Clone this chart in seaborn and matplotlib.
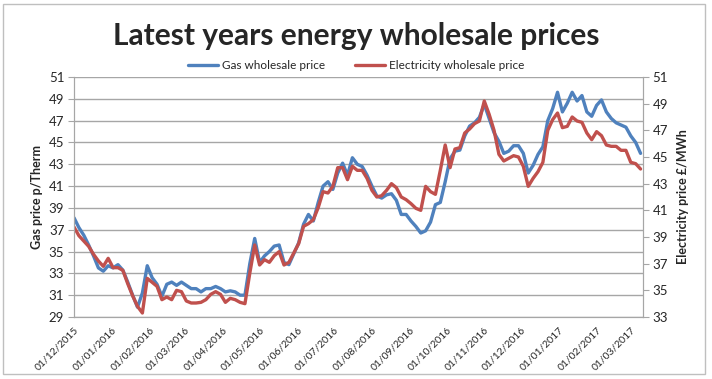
import matplotlib
matplotlib.use("Agg")
import matplotlib.pyplot as plt
import matplotlib.dates as mdates
from matplotlib.patches import Rectangle
import pandas as pd
import seaborn as sns

# prices sampled every 4 days from 01/12/2015
start_date = "2015-12-01"
step = "4D"

gas_price = [
    38.1, 37.2, 36.5, 35.6, 34.6, 33.5, 33.2, 33.7, 33.5, 33.8,
    33.3, 32.2, 31.0, 29.9, 31.2, 33.7, 32.6, 32.0, 30.9, 32.0,
    32.2, 31.9, 32.2, 31.9, 31.6, 31.6, 31.3, 31.6, 31.6, 31.8,
    31.6, 31.3, 31.4, 31.3, 31.0, 31.0, 33.9, 36.2, 34.0, 34.6,
    35.0, 35.5, 35.6, 34.0, 33.8, 34.8, 35.8, 37.5, 38.4, 37.8,
    39.5, 41.0, 41.4, 40.7, 42.2, 43.1, 42.0, 43.6, 43.0, 42.8,
    42.0, 41.0, 40.1, 39.9, 40.2, 40.3, 39.7, 38.4, 38.4, 37.8,
    37.3, 36.7, 36.9, 37.7, 39.3, 39.5, 41.4, 43.5, 44.2, 44.3,
    45.6, 46.5, 46.8, 47.3, 48.5, 47.2, 45.9, 45.1, 44.0, 44.2,
    44.7, 44.7, 44.0, 42.2, 42.9, 43.9, 44.6, 47.0, 48.1, 49.6,
    47.8, 48.6, 49.6, 48.8, 49.3, 47.8, 47.4, 48.4, 48.9, 47.8,
    47.2, 46.8, 46.6, 46.4, 45.6, 45.0, 44.0,
]

elec_price = [
    39.75, 39.1, 38.7, 38.3, 37.7, 37.2, 36.8, 37.4, 36.7, 36.7,
    36.5, 35.5, 34.6, 33.8, 33.3, 35.9, 35.6, 35.3, 34.3, 34.5,
    34.3, 35.0, 34.9, 34.2, 34.05, 34.05, 34.1, 34.3, 34.7, 34.9,
    34.7, 34.1, 34.4, 34.3, 34.1, 34.0, 36.3, 38.4, 36.9, 37.3,
    37.1, 37.6, 37.9, 36.9, 37.1, 37.8, 38.5, 39.8, 40.0, 40.3,
    41.2, 42.4, 42.3, 42.8, 44.2, 44.2, 43.3, 44.3, 44.0, 44.0,
    43.4, 42.5, 42.0, 42.1, 42.5, 43.0, 42.7, 42.0, 41.8, 41.5,
    41.15, 41.0, 42.8, 42.4, 42.2, 44.0, 45.9, 44.2, 45.6, 45.7,
    46.8, 47.1, 47.5, 47.7, 49.2, 48.2, 47.0, 45.2, 44.7, 44.9,
    45.1, 45.0, 44.3, 42.8, 43.4, 43.9, 44.6, 47.0, 47.8, 48.3,
    47.2, 47.3, 48.0, 47.7, 47.6, 46.8, 46.3, 46.9, 46.6, 45.9,
    45.8, 45.8, 45.5, 45.5, 44.6, 44.5, 44.1,
]

gas_ticks = list(range(29, 52, 2))
elec_ticks = list(range(33, 52, 2))

dates = pd.date_range(start_date, periods=len(gas_price), freq=step)
df = pd.DataFrame({"date": dates, "gas": gas_price, "elec": elec_price})

blue = "#4F81BD"
red = "#C0504D"
grid_col = "#A6A6A6"

sns.set_style("white")
plt.rcParams["font.family"] = ["Lato", "DejaVu Sans"]

fig = plt.figure(figsize=(7.12, 3.79), dpi=100)
ax = fig.add_axes([74 / 712, 1 - 317 / 379, (643 - 74) / 712, (317 - 77) / 379])
ax2 = ax.twinx()

sns.lineplot(data=df, x="date", y="gas", ax=ax, color=blue, linewidth=2.4,
             label="Gas wholesale price", legend=False)
sns.lineplot(data=df, x="date", y="elec", ax=ax2, color=red, linewidth=2.4,
             label="Electricity wholesale price", legend=False)

ax.set_ylim(29, 51)
ax.set_yticks(gas_ticks)
ax2.set_ylim(33, 51)
ax2.set_yticks(elec_ticks)
ax.set_xlim(pd.Timestamp("2015-12-01"), pd.Timestamp("2017-03-11"))

ax.xaxis.set_major_locator(mdates.MonthLocator())
ax.xaxis.set_major_formatter(mdates.DateFormatter("%d/%m/%Y"))
for lab in ax.get_xticklabels():
    lab.set_rotation(45)
    lab.set_ha("right")
    lab.set_rotation_mode("anchor")
ax.tick_params(axis="x", labelsize=7.5, length=4, color=grid_col, pad=2)
ax.tick_params(axis="y", labelsize=9.5, length=4, color=grid_col, pad=3)
ax2.tick_params(axis="y", labelsize=9.5, length=4, color=grid_col, pad=3)

ax.grid(axis="y", color=grid_col, linewidth=1)
ax.grid(axis="x", visible=False)
ax2.grid(False)
for a in (ax, ax2):
    a.spines["top"].set_visible(False)
    for s in ("left", "right", "bottom"):
        a.spines[s].set_color(grid_col)

ax.set_xlabel("")
ax.set_ylabel("Gas price p/Therm", fontsize=9, fontweight="bold", labelpad=4)
ax2.set_ylabel("Electricity price £/MWh", fontsize=9, fontweight="bold", labelpad=6)

fig.text(0.5, 0.905, "Latest years energy wholesale prices", ha="center",
         va="center", fontsize=21.5, fontweight="bold")

h1, l1 = ax.get_legend_handles_labels()
h2, l2 = ax2.get_legend_handles_labels()
fig.legend(h1 + h2, l1 + l2, loc="center", bbox_to_anchor=(0.5, 0.828), ncol=2,
           frameon=False, fontsize=8.5, handlelength=2.6, handletextpad=0.3,
           columnspacing=2.5)

fig.patches.append(Rectangle((3 / 712, 5 / 379), 702 / 712, 370 / 379,
                             transform=fig.transFigure, fill=False,
                             edgecolor="#BFBFBF", linewidth=1))

fig.savefig("out.png", dpi=100)
plt.close(fig)
